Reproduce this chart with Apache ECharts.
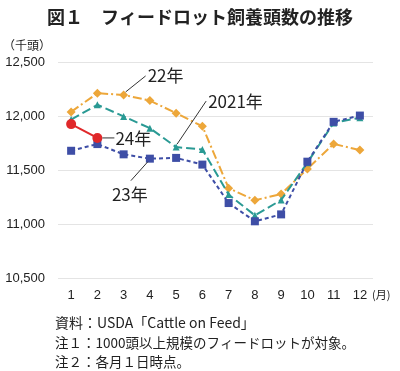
<!DOCTYPE html>
<html><head><meta charset="utf-8">
<script src="https://cdn.jsdelivr.net/npm/echarts@6/dist/echarts.min.js"></script>
<style>html,body{margin:0;padding:0;background:#fff}#c{width:400px;height:371px}</style>
</head><body><div id="c"></div>
<script>
const months = ['1','2','3','4','5','6','7','8','9','10','11','12'];
const y2021 = [11967,12104,11996,11887,11712,11690,11272,11080,11222,11568,11936,11984];
const y2022 = [12038,12211,12195,12143,12026,11905,11332,11220,11278,11510,11741,11685];
const y2023 = [11678,11740,11645,11605,11612,11550,11194,11025,11089,11577,11946,12004];
const y2024 = [11925,11797];
const yTicks = [10500,11000,11500,12000,12500];

const JP = '"Noto Sans CJK JP", sans-serif';
const NUM = '"Liberation Sans", Arial, sans-serif';

const chart = echarts.init(document.getElementById('c'));
function mk(name, data, color, symbol, size, dash, z){
  return {name, type:'line', data, symbol, symbolSize:size, z,
    lineStyle:{color, width:2, type:dash}, itemStyle:{color}, animation:false};
}
chart.setOption({
  animation:false,
  title:{text:'図１　フィードロット飼養頭数の推移', left:'center', top:3,
    textStyle:{fontFamily:JP, fontSize:18, fontWeight:'bold', color:'#222'}},
  grid:{left:58, right:27, top:62, bottom:93},
  xAxis:{type:'category', data:months, boundaryGap:true,
    axisLine:{show:false}, axisTick:{show:false},
    axisLabel:{fontFamily:NUM, fontSize:13, color:'#222', margin:11}},
  yAxis:{type:'value', min:yTicks[0], max:yTicks[yTicks.length-1], interval:500,
    axisLabel:{fontFamily:NUM, fontSize:13, color:'#222', margin:13,
      formatter:v=>v.toLocaleString('en-US')},
    splitLine:{lineStyle:{color:'#e4e4e4'}}},
  series:[
    mk('2022', y2022, '#EDA73A', 'diamond', 9, [9,3,2,3], 3),
    mk('2021', y2021, '#2A9A94', 'triangle', 7, [9,4], 4),
    mk('2023', y2023, '#3E4EA6', 'rect', 8, [4,3], 5),
    mk('2024', y2024, '#E0282A', 'circle', 10, 'solid', 6)
  ]
});

function px(i, v){ return chart.convertToPixel({gridIndex:0}, [i, v]); }
const g = [];
function txt(x,y,s,size,font,align){ g.push({type:'text', x, y, style:{text:s, fontSize:size, fontFamily:font||JP, fill:'#222', textAlign:align||'left', textVerticalAlign:'middle'}, z:20}); }
function ln(a,b){ g.push({type:'line', shape:{x1:a[0],y1:a[1],x2:b[0],y2:b[1]}, style:{stroke:'#333', lineWidth:1}, z:20}); }

// 22年 leader from point Mar
let p = px(2, y2022[2]);
ln([p[0]+2, p[1]-3], [p[0]+22, p[1]-19]);
txt(p[0]+24, p[1]-19, '22年', 17);
// 2021年 leader from point May
p = px(4, y2021[4]);
ln([p[0]+1, p[1]-3], [p[0]+30, p[1]-46]);
txt(p[0]+32, p[1]-46, '2021年', 17);
// 24年
p = px(1, y2024[1]);
ln([p[0]+5, p[1]], [p[0]+17, p[1]]);
txt(p[0]+18, p[1]+1, '24年', 17);
// 23年
p = px(3, y2023[3]);
ln([p[0]-2, p[1]+3], [p[0]-19, p[1]+22]);
txt(p[0]-38, p[1]+36, '23年', 17);
// units
txt(3, 45, '（千頭）', 12);
txt(372, 295, '(月)', 11);
// notes
txt(55, 323, '資料：USDA「Cattle on Feed」', 14);
txt(55, 343, '注１：1000頭以上規模のフィードロットが対象。', 13.5);
txt(55, 362, '注２：各月１日時点。', 13.5);
chart.setOption({graphic:g});
</script></body></html>
